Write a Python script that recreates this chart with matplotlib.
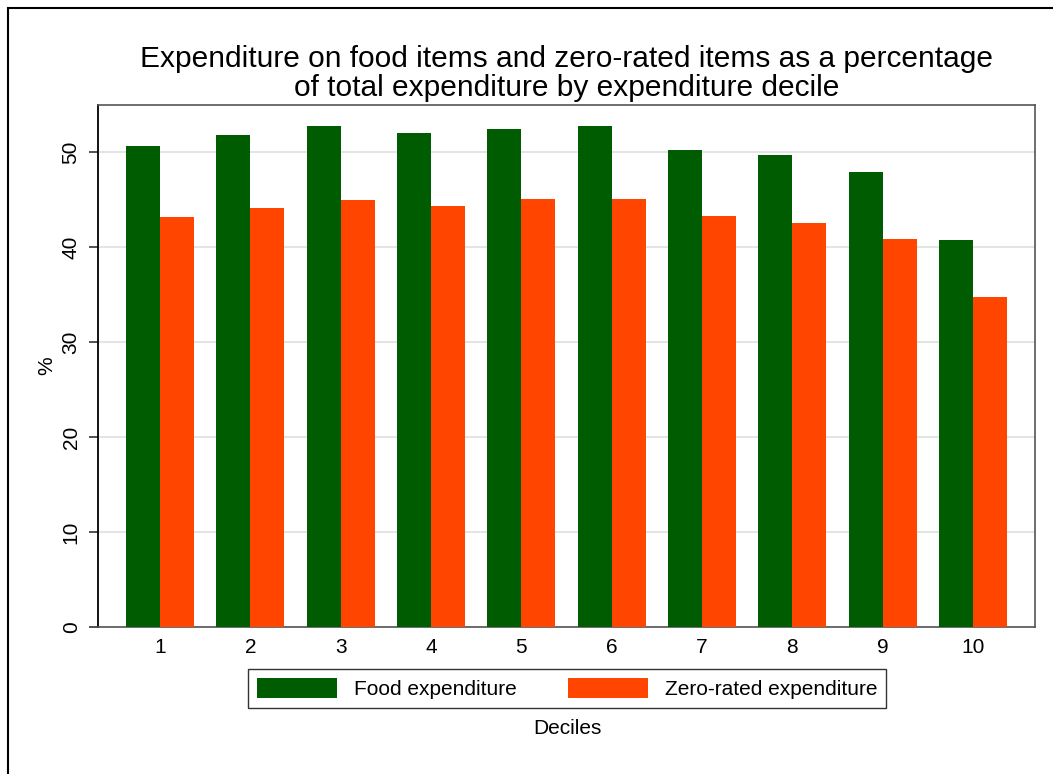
import matplotlib
matplotlib.use("Agg")
import matplotlib.pyplot as plt
from matplotlib.patches import Rectangle
import numpy as np

plt.rcParams['font.family'] = ['Liberation Sans', 'DejaVu Sans']

deciles = [1, 2, 3, 4, 5, 6, 7, 8, 9, 10]
food = [50.7, 51.8, 52.8, 52.1, 52.5, 52.8, 50.3, 49.7, 47.9, 40.8]
zero_rated = [43.2, 44.2, 45.0, 44.4, 45.1, 45.1, 43.3, 42.6, 40.9, 34.8]
series_names = ["Food expenditure", "Zero-rated expenditure"]
title_lines = ["Expenditure on food items and zero-rated items as a percentage",
               "of total expenditure by expenditure decile"]
y_ticks = [0, 10, 20, 30, 40, 50]

W, H = 1053, 774
fig = plt.figure(figsize=(W / 100, H / 100), dpi=100)
ax = fig.add_axes([98 / W, 1 - 627 / H, (1035 - 98) / W, (627 - 105) / H])

x = np.array(deciles, dtype=float)
w = 0.376
green = '#005c00'
orange = '#ff4500'
b1 = ax.bar(x - w / 2, food, width=w, color=green, label=series_names[0], zorder=3, linewidth=0)
b2 = ax.bar(x + w / 2, zero_rated, width=w, color=orange, label=series_names[1], zorder=3, linewidth=0)

ax.set_xlim(0.314, 10.686)
ax.set_ylim(0, 55)
ax.set_yticks(y_ticks)
ax.set_yticklabels([str(v) for v in y_ticks], rotation=90, va='center', fontsize=15)
ax.set_xticks(x)
ax.set_xticklabels([str(d) for d in deciles], fontsize=15)
ax.tick_params(axis='x', length=0, pad=8)
ax.tick_params(axis='y', length=6.5, width=1.2, pad=6, color='#333333')
ax.grid(axis='y', color='#e2e2e2', linewidth=1.3, zorder=0)
ax.set_axisbelow(True)

for side in ['top', 'right', 'bottom']:
    ax.spines[side].set_color('#555555')
    ax.spines[side].set_linewidth(1.2)
ax.spines['left'].set_color('black')
ax.spines['left'].set_linewidth(1.3)

ax.set_ylabel('%', fontsize=15, labelpad=4)

leg = fig.legend(handles=[b1, b2], loc='center', bbox_to_anchor=(567 / W, 1 - 688.5 / H),
                 ncol=2, fontsize=15, frameon=True, fancybox=False, shadow=False,
                 handlelength=3.85, handleheight=1.06, handletextpad=0.8,
                 columnspacing=2.45, borderpad=0.45, edgecolor='black')
leg.get_frame().set_linewidth(1.0)

fig.text(567 / W, 1 - 728 / H, 'Deciles', ha='center', va='center', fontsize=15)

fig.text(567 / W, 1 - 67 / H, title_lines[0], ha='center', va='baseline', fontsize=21.5)
fig.text(567 / W, 1 - 96 / H, title_lines[1], ha='center', va='baseline', fontsize=21.5)

border = Rectangle((8 / W, -0.5), 2.0, 1.5 - 8 / H, transform=fig.transFigure,
                   fill=False, edgecolor='black', linewidth=1.5)
fig.patches.append(border)

fig.savefig('out.png', dpi=100)
